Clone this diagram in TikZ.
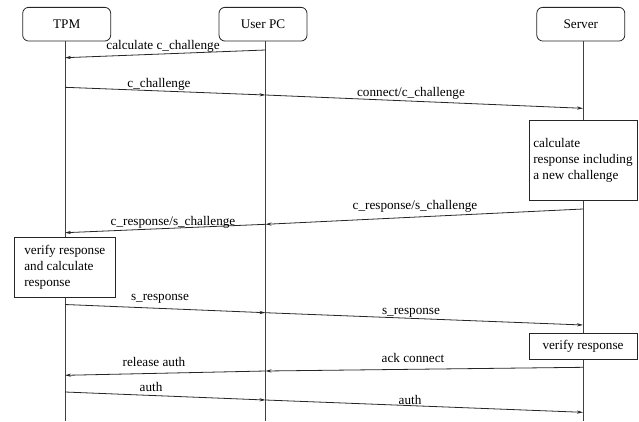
\documentclass[tikz,border=0pt]{standalone}
\usepackage{fontspec}
\setmainfont{Liberation Serif}
\newfontfamily\diagfont{Liberation Serif}
\usetikzlibrary{arrows.meta}
\begin{document}
\begin{tikzpicture}[x=1pt,y=-1pt,
  font=\diagfont\fontsize{13.2}{16}\selectfont,
  actor/.style={draw=black!85, fill=white, rounded corners=6pt, line width=0.8pt,
    minimum width=88pt, minimum height=33.7pt, inner sep=0pt},
  lifeline/.style={draw=black!75, line width=0.9pt},
  msg/.style={draw=black!85, line width=0.8pt, -{Stealth[length=6pt,width=3.2pt]}},
  note/.style={draw=black!85, fill=white, line width=0.8pt, inner sep=0pt, align=left},
  lbl/.style={anchor=base, inner sep=0pt}
]
\useasboundingbox (0,0) rectangle (639,421);

% participants
\node[actor] (tpm) at (66.7,24.2) {TPM};
\node[actor] (pc)  at (263,24.2)  {User PC};
\node[actor] (srv) at (580.8,24.2) {Server};

% lifeline ends
\coordinate (tpmEnd) at (65,421);
\coordinate (pcEnd)  at (265.5,421);
\coordinate (srvEnd) at (583,421);
\draw[lifeline] (tpm.south -| tpmEnd) -- (tpmEnd);
\draw[lifeline] (pc.south -| pcEnd) -- (pcEnd);
\draw[lifeline] (srv.south -| srvEnd) -- (srvEnd);

% message anchor points on the lifelines
\coordinate (a1) at (265.5,50);   \coordinate (a2) at (65,57.7);
\coordinate (b1) at (65,87.3);    \coordinate (b2) at (265.5,95);  \coordinate (b3) at (583,108.3);
\coordinate (c1) at (583,209);    \coordinate (c2) at (265.5,224.3); \coordinate (c3) at (65,232.7);
\coordinate (d1) at (65,304.5);   \coordinate (d2) at (265.5,312.7); \coordinate (d3) at (583,325);
\coordinate (e1) at (583,367.3);  \coordinate (e2) at (265.5,371); \coordinate (e3) at (65,375.3);
\coordinate (f1) at (65,392);     \coordinate (f2) at (265.5,400); \coordinate (f3) at (583,412.3);

% activity notes
\node[note, minimum width=108pt, minimum height=80pt]
  (calc) at (583,160.7) {calculate\\response including\\a new challenge};
\node[note, minimum width=101pt, minimum height=59.7pt]
  (verT) at (64.8,267.2) {verify response\\and calculate\\response};
\node[note, minimum width=108pt, minimum height=26pt, align=center]
  (verS) at (583,346.3) {verify response};

% messages
\draw[msg] (a1) -- (a2);
\draw[msg] (b1) -- (b2);
\draw[msg] (b2) -- (b3);
\draw[msg] (c1) -- (c2);
\draw[msg] (c2) -- (c3);
\draw[msg] (d1) -- (d2);
\draw[msg] (d2) -- (d3);
\draw[msg] (e1) -- (e2);
\draw[msg] (e2) -- (e3);
\draw[msg] (f1) -- (f2);
\draw[msg] (f2) -- (f3);

% message labels
\node[lbl] (l1)  at (163,49)  {calculate c\_challenge};
\node[lbl] (l2)  at (159,87)  {c\_challenge};
\node[lbl] (l3)  at (411,96)  {connect/c\_challenge};
\node[lbl] (l4)  at (415,209) {c\_response/s\_challenge};
\node[lbl] (l5)  at (173,225) {c\_response/s\_challenge};
\node[lbl] (l6)  at (160,300) {s\_response};
\node[lbl] (l7)  at (411,314) {s\_response};
\node[lbl] (l8)  at (413,362) {ack connect};
\node[lbl] (l9)  at (154,366) {release auth};
\node[lbl] (l10) at (151,391) {auth};
\node[lbl] (l11) at (410,404) {auth};
\end{tikzpicture}
\end{document}
